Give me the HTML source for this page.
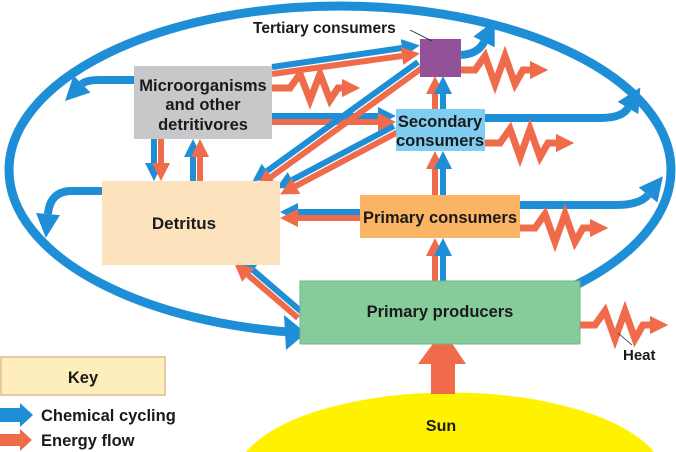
<!DOCTYPE html>
<html><head><meta charset="utf-8"><style>
html,body{margin:0;padding:0;background:#fff;width:676px;height:452px;overflow:hidden}
svg{display:block;overflow:hidden}
svg text{font-family:"Liberation Sans",Arial,sans-serif;font-weight:bold;fill:#1a1a1a}
</style></head><body>
<svg width="676" height="452" viewBox="0 0 676 452" xmlns="http://www.w3.org/2000/svg">
<defs>
<marker id="b" viewBox="0 0 10 10" refX="0" refY="5" markerWidth="3" markerHeight="3" orient="auto"><path d="M0,0 L10,5 L0,10z" fill="#1e8fd6"/></marker>
<marker id="o" viewBox="0 0 10 10" refX="0" refY="5" markerWidth="3" markerHeight="3" orient="auto"><path d="M0,0 L10,5 L0,10z" fill="#ef6b4a"/></marker>
<marker id="oz" viewBox="0 0 10 10" refX="0" refY="5" markerWidth="2.6" markerHeight="2.6" orient="auto"><path d="M0,0 L10,5 L0,10z" fill="#ef6b4a"/></marker>
</defs>
<ellipse cx="340" cy="170" rx="331" ry="164" fill="none" stroke="#1e8fd6" stroke-width="9"/>
<path d="M246,452 A215 87 0 0 1 654,452 Z" fill="#fff200"/>
<polygon points="431,394 455,394 455,364 466,364 443,330 418,364 431,364" fill="#ef6b4a"/>

<g fill="none" stroke-width="6">
<line x1="272" y1="67" x2="402" y2="48" stroke="#1e8fd6" marker-end="url(#b)"/>
<line x1="272" y1="74" x2="402" y2="56" stroke="#ef6b4a" marker-end="url(#o)"/>
<line x1="272" y1="116" x2="378" y2="116" stroke="#1e8fd6" marker-end="url(#b)"/>
<line x1="272" y1="122" x2="378" y2="122" stroke="#ef6b4a" marker-end="url(#o)"/>
<line x1="418" y1="62" x2="267" y2="171" stroke="#1e8fd6" marker-end="url(#b)"/>
<line x1="422" y1="68" x2="271" y2="177" stroke="#ef6b4a" marker-end="url(#o)"/>
<line x1="394" y1="126" x2="292" y2="180" stroke="#1e8fd6" marker-end="url(#b)"/>
<line x1="398" y1="132" x2="296" y2="186" stroke="#ef6b4a" marker-end="url(#o)"/>
<line x1="360" y1="212" x2="298" y2="212" stroke="#1e8fd6" marker-end="url(#b)"/>
<line x1="360" y1="218" x2="298" y2="218" stroke="#ef6b4a" marker-end="url(#o)"/>
<line x1="303" y1="313" x2="253" y2="270" stroke="#1e8fd6" marker-end="url(#b)"/>
<line x1="298" y1="318" x2="248" y2="275" stroke="#ef6b4a" marker-end="url(#o)"/>
<line x1="154" y1="139" x2="154" y2="163" stroke="#1e8fd6" marker-end="url(#b)"/>
<line x1="161" y1="139" x2="161" y2="163" stroke="#ef6b4a" marker-end="url(#o)"/>
<line x1="193" y1="181" x2="193" y2="157" stroke="#1e8fd6" marker-end="url(#b)"/>
<line x1="200" y1="181" x2="200" y2="157" stroke="#ef6b4a" marker-end="url(#o)"/>
<line x1="435" y1="281" x2="435" y2="256" stroke="#ef6b4a" marker-end="url(#o)"/>
<line x1="443" y1="281" x2="443" y2="256" stroke="#1e8fd6" marker-end="url(#b)"/>
<line x1="435" y1="195" x2="435" y2="169" stroke="#ef6b4a" marker-end="url(#o)"/>
<line x1="443" y1="195" x2="443" y2="169" stroke="#1e8fd6" marker-end="url(#b)"/>
<line x1="435" y1="109" x2="435" y2="94" stroke="#ef6b4a" marker-end="url(#o)"/>
<line x1="443" y1="109" x2="443" y2="94" stroke="#1e8fd6" marker-end="url(#b)"/>
<path d="M461,55 Q478,54 484,42" stroke="#1e8fd6" stroke-width="8" marker-end="url(#b)"/>
<path d="M485,118 L600,118 Q622,118 628,108" stroke="#1e8fd6" stroke-width="8" marker-end="url(#b)"/>
<path d="M520,205 L615,205 Q640,205 648,195" stroke="#1e8fd6" stroke-width="8" marker-end="url(#b)"/>
<path d="M134,80 L100,80 Q86,80 82,84" stroke="#1e8fd6" stroke-width="8" marker-end="url(#b)"/>
<path d="M102,191 L70,191 Q50,192 48,214" stroke="#1e8fd6" stroke-width="8" marker-end="url(#b)"/>
<polyline points="461,70 475,70 485,56 495,84 505,56 515,84 523,70 530,70" stroke="#ef6b4a" stroke-width="7" marker-end="url(#oz)"/>
<polyline points="272,88 290,88 300,74 310,100 320,74 330,100 338,88 342,88" stroke="#ef6b4a" stroke-width="7" marker-end="url(#oz)"/>
<polyline points="485,143 500,143 510,129 520,157 530,129 540,157 548,143 556,143" stroke="#ef6b4a" stroke-width="7" marker-end="url(#oz)"/>
<polyline points="520,228 535,228 545,214 555,242 565,214 575,242 583,228 590,228" stroke="#ef6b4a" stroke-width="7" marker-end="url(#oz)"/>
<polyline points="580,325 595,325 605,311 615,339 625,311 635,339 643,325 650,325" stroke="#ef6b4a" stroke-width="7" marker-end="url(#oz)"/>
</g>
<polygon points="284,315 306,333 286,350" fill="#1e8fd6"/>

<rect x="134" y="66" width="138" height="73" fill="#c8c8ca"/>
<rect x="420" y="39" width="41" height="38" fill="#93519a"/>
<rect x="396" y="109" width="89" height="42" fill="#7fcdf0"/>
<rect x="360" y="195" width="160" height="43" fill="#fbb463"/>
<rect x="102" y="181" width="178" height="84" fill="#fde3bd"/>
<rect x="300" y="281" width="280" height="63" fill="#86cc9b" stroke="#6fb487"/>
<rect x="1" y="357" width="164" height="38" fill="#fdeebb" stroke="#e8caa0" stroke-width="2"/>

<text x="203" y="91" font-size="16.5" text-anchor="middle">Microorganisms</text>
<text x="203" y="110" font-size="16.5" text-anchor="middle">and other</text>
<text x="203" y="130" font-size="16.5" text-anchor="middle">detritivores</text>
<text x="184" y="229" font-size="17" text-anchor="middle">Detritus</text>
<text x="440" y="127" font-size="16.5" text-anchor="middle">Secondary</text>
<text x="440" y="146" font-size="16.5" text-anchor="middle">consumers</text>
<text x="440" y="223" font-size="16.5" text-anchor="middle">Primary consumers</text>
<text x="440" y="317" font-size="16.5" text-anchor="middle">Primary producers</text>
<text x="253" y="33" font-size="15.5">Tertiary consumers</text>
<line x1="410" y1="30" x2="432" y2="41" stroke="#222" stroke-width="0.8"/>
<text x="623" y="360" font-size="15">Heat</text>
<line x1="618" y1="333" x2="632" y2="345" stroke="#222" stroke-width="0.8"/>
<text x="441" y="431" font-size="16" text-anchor="middle">Sun</text>
<text x="83" y="383" font-size="16.5" text-anchor="middle">Key</text>
<polygon points="0,408 20,408 20,403 33,415 20,427 20,422 0,422" fill="#1e8fd6"/>
<text x="41" y="421" font-size="16.5">Chemical cycling</text>
<polygon points="0,434 20,434 20,429 32,440 20,451 20,446 0,446" fill="#ef6b4a"/>
<text x="41" y="446" font-size="16.5">Energy flow</text>
</svg>
</body></html>
